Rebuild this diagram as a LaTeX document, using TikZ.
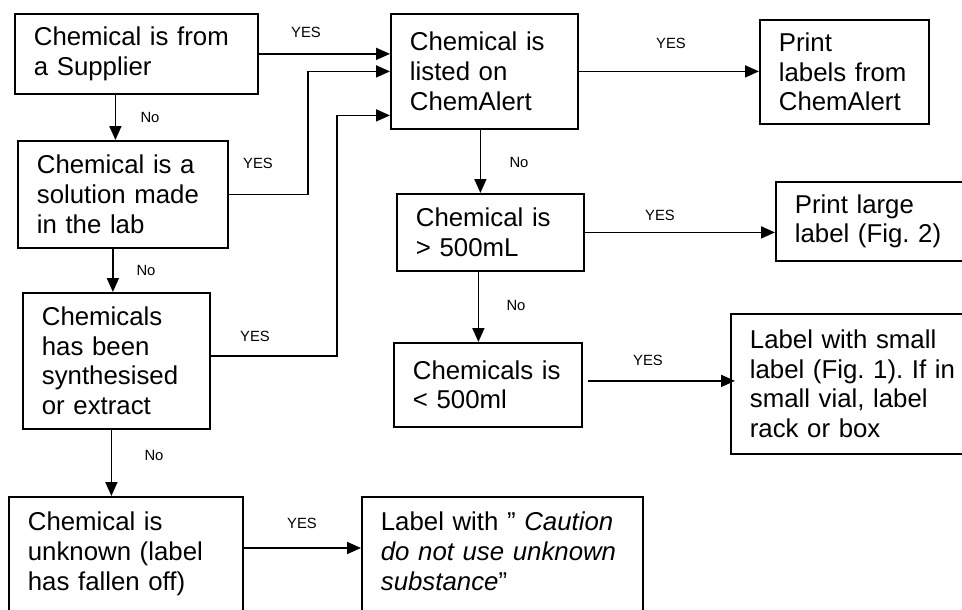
\documentclass[tikz,border=0pt]{standalone}
\usepackage{fontspec}
\setmainfont{Liberation Sans}
\usetikzlibrary{arrows.meta}
\frenchspacing
\begin{document}
\begin{tikzpicture}[
  x=1pt, y=-1pt,
  box/.style={draw, line width=1.8pt, anchor=north west, align=left,
    inner xsep=19pt, inner ysep=4pt,
    font=\fontsize{25.8}{29.7}\selectfont},
  flow/.style={line width=1.7pt, -{Triangle[length=14pt,width=12pt]}},
  note/.style={font=\fontsize{14.8}{17}\selectfont, inner sep=0pt}
]
\useasboundingbox (0,0) rectangle (962,610);
\clip (0,0) rectangle (962,610);
% left column
\node[box, text width=205pt, minimum height=80pt] (supplier) at (14,13) {Chemical is from\\a Supplier};
\node[box, text width=172pt, minimum height=107pt] (solution) at (17,140) {Chemical is a\\solution made\\in the lab};
\node[box, text width=149pt, minimum height=136pt] (synth) at (22,292) {Chemicals\\has been\\synthesised\\or extract};
\node[box, text width=196pt, text height=30pt, text depth=130pt] (unknown) at (8,496) {Chemical is\\unknown (label\\has fallen off)};
\node[box, text width=243pt, text height=30pt, text depth=130pt] (caution) at (361,496) {Label with " \textit{Caution}\\\textit{do not use unknown}\\\textit{substance}”};
% right part
\node[box, text width=149pt, minimum height=115pt] (listed) at (390,13) {Chemical is\\listed on\\ChemAlert};
\node[box, text width=131pt, minimum height=104pt] (labels) at (759,19) {Print\\labels from\\ChemAlert};
\node[box, text width=149pt, minimum height=77pt] (big) at (396,193) {Chemical is\\> 500mL};
\node[box, text width=240pt, minimum height=79pt] (large) at (775,181) {Print large\\label (Fig. 2)};
\node[box, text width=150pt, minimum height=84pt] (small) at (393,342) {Chemicals is\\< 500ml};
\node[box, text width=270pt, minimum height=140pt] (smalllabel) at (730,313) {Label with small\\label (Fig. 1). If in\\small vial, label\\rack or box};
% connectors
\draw[flow] (supplier.east) -- (supplier.east -| listed.west);
\draw[flow] (solution.east) -- ++(79,0) |- (listed.west);
\draw[flow] ([yshift=5pt]synth.east) -- ++(126,0) |- ([yshift=-44pt]listed.west);
\draw[flow] ([xshift=-21pt]supplier.south) -- ([xshift=-21pt]supplier.south |- solution.north);
\draw[flow] ([xshift=-10pt]solution.south) -- ([xshift=-10pt]solution.south |- synth.north);
\draw[flow] ([xshift=-5pt]synth.south) -- ([xshift=-5pt]synth.south |- unknown.north);
\draw[flow] ([yshift=-52pt]unknown.north east) -- ([yshift=-52pt]unknown.north east -| caution.west);
\draw[flow] (listed.east) -- (listed.east -| labels.west);
\draw[flow] ([xshift=-4pt]listed.south) -- ([xshift=-4pt]listed.south |- big.north);
\draw[flow] (big.east) -- (big.east -| large.west);
\draw[flow] ([xshift=-12pt]big.south) -- ([xshift=-12pt]big.south |- small.north);
\draw[flow] ([xshift=5pt,yshift=4pt]small.east) -- ([xshift=5pt,yshift=4pt]small.east -| smalllabel.west);
% answers
\node[note] (yes1) at (306,32) {YES};
\node[note] (yes2) at (258,163) {YES};
\node[note] (yes3) at (255,336) {YES};
\node[note] (yes4) at (671,43) {YES};
\node[note] (yes5) at (660,215) {YES};
\node[note] (yes6) at (648,360) {YES};
\node[note] (yes7) at (302,523) {YES};
\node[note] (no1) at (150,117) {No};
\node[note] (no2) at (146,270) {No};
\node[note] (no3) at (519,162) {No};
\node[note] (no4) at (516,305) {No};
\node[note] (no5) at (154,455) {No};
\end{tikzpicture}
\end{document}
